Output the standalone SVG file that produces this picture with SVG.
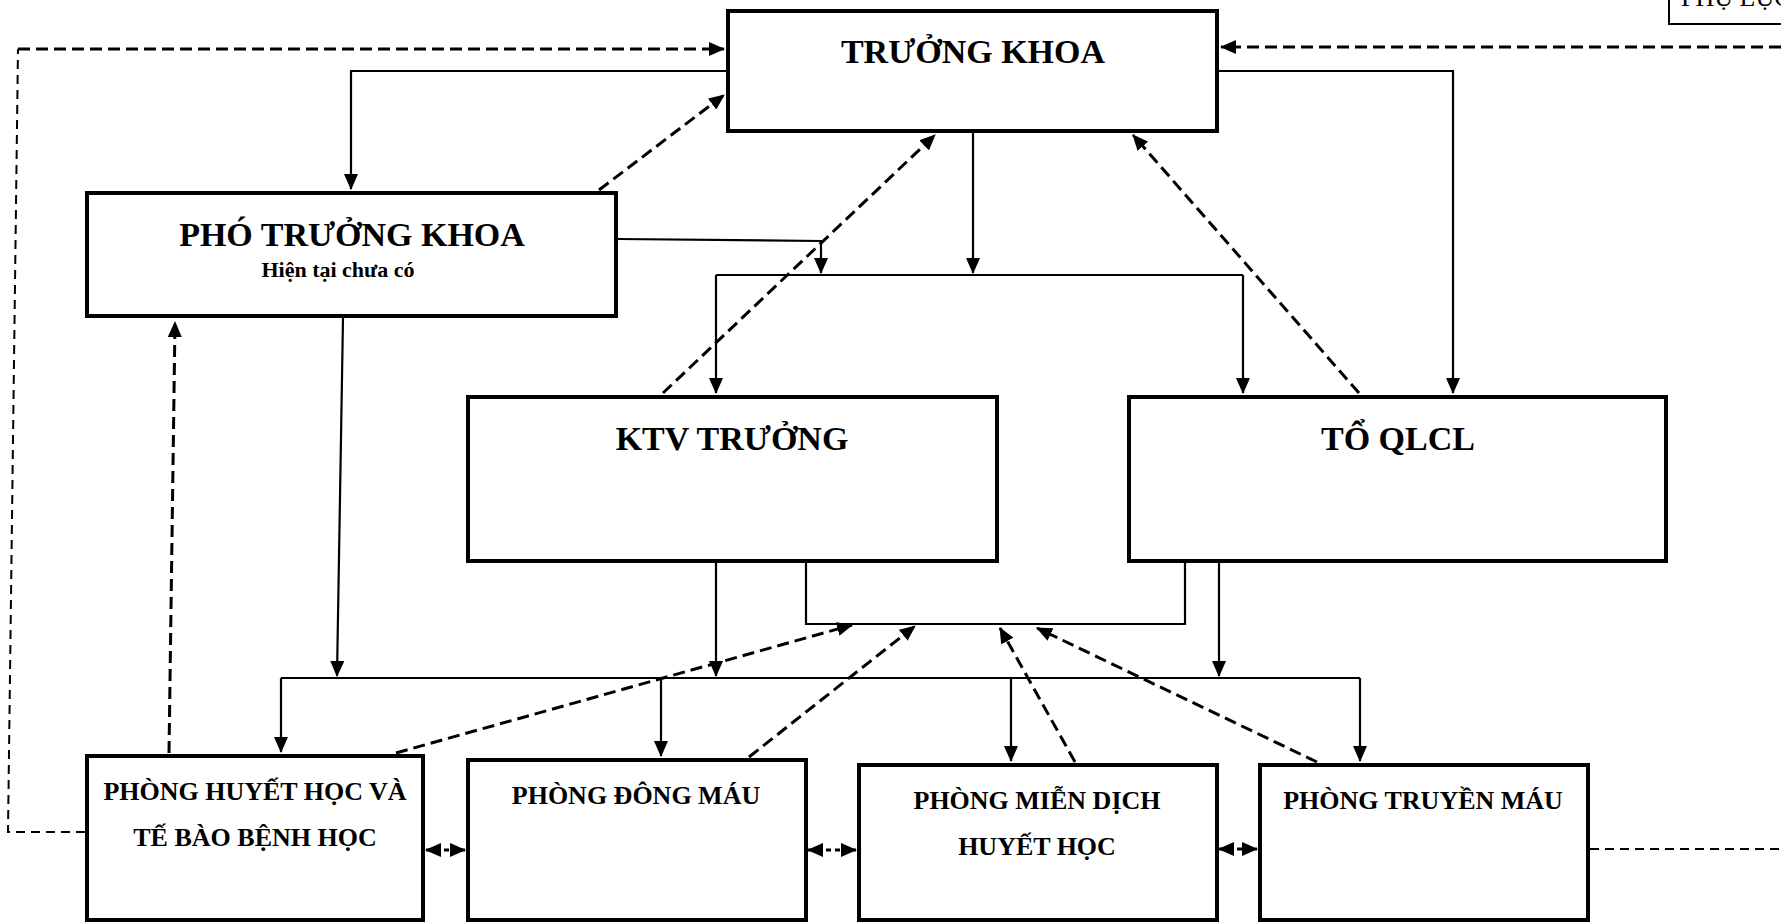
<svg xmlns="http://www.w3.org/2000/svg" width="1781" height="923" viewBox="0 0 1781 923">
<style>
.box{fill:#fff;stroke:#000;stroke-width:4}
.t{font-family:"Liberation Serif","Times New Roman",serif;font-weight:bold;fill:#000;text-anchor:middle}
.big{font-size:34px}
.mid{font-size:26px}
.small{font-size:22px}
.s{fill:none;stroke:#000;stroke-width:2.2}
.d{fill:none;stroke:#000;stroke-width:3;stroke-dasharray:12 6}
.dt{fill:none;stroke:#000;stroke-width:2;stroke-dasharray:9 6}
.dd{fill:none;stroke:#000;stroke-width:3;stroke-dasharray:5 4}
.a{marker-end:url(#arr)}
.ab{marker-start:url(#arr);marker-end:url(#arr)}
</style>
<defs>
<marker id="arr" markerUnits="userSpaceOnUse" markerWidth="16" markerHeight="14" viewBox="0 0 16 14" refX="15" refY="7" orient="auto-start-reverse">
<path d="M0,0 L16,7 L0,14 z" fill="#000"/>
</marker>
</defs>
<rect width="1781" height="923" fill="#fff"/>

<g id="connectors">
<path class="s a" d="M726,71 H351 V189"/>
<path class="s a" d="M1219,71 H1453 V393"/>
<path class="s a" d="M973,133 V273"/>
<path class="s" d="M716,275 H1243"/>
<path class="s a" d="M716,275 V393"/>
<path class="s a" d="M1243,275 V393"/>
<path class="s a" d="M618,239 L821,241 V273"/>
<path class="s a" d="M343,318 L337,676"/>
<path class="s a" d="M716,563 V676"/>
<path class="s a" d="M1219,563 V676"/>
<path class="s" d="M806,563 V624 H1185 V563"/>
<path class="s" d="M281,678 H1360"/>
<path class="s a" d="M281,678 V752"/>
<path class="s a" d="M661,678 V756"/>
<path class="s a" d="M1011,678 V761"/>
<path class="s a" d="M1360,678 V761"/>
<path class="d a" d="M18,49 H724"/>
<path class="dt" d="M85,832 H8 L18,49"/>
<path class="d a" d="M1781,47 H1221"/>
<path class="dt" d="M1590,849 H1781"/>
<path class="d a" d="M599,190 L724,95"/>
<path class="d a" d="M663,393 L935,135"/>
<path class="d a" d="M1359,393 L1133,135"/>
<path class="d a" d="M169,753 L175,322"/>
<path class="d a" d="M396,753 L852,625"/>
<path class="d a" d="M749,757 L915,626"/>
<path class="d a" d="M1075,762 L1000,628"/>
<path class="d a" d="M1317,762 L1037,628"/>
<path class="dd ab" d="M426,850 H465"/>
<path class="dd ab" d="M808,850 H856"/>
<path class="dd ab" d="M1219,849 H1257"/>
</g>

<g id="truong-khoa">
<rect class="box" x="728" y="11" width="489" height="120"/>
<text class="t big" x="973" y="63">TRƯỞNG KHOA</text>
</g>
<g id="pho-truong-khoa">
<rect class="box" x="87" y="193" width="529" height="123"/>
<text class="t big" x="352" y="246">PHÓ TRƯỞNG KHOA</text>
<text class="t small" x="338" y="277">Hiện tại chưa có</text>
</g>
<g id="ktv-truong">
<rect class="box" x="468" y="397" width="529" height="164"/>
<text class="t big" x="732" y="450">KTV TRƯỞNG</text>
</g>
<g id="to-qlcl">
<rect class="box" x="1129" y="397" width="537" height="164"/>
<text class="t big" x="1398" y="450">TỔ QLCL</text>
</g>
<g id="phong-huyet-hoc">
<rect class="box" x="87" y="756" width="336" height="164"/>
<text class="t mid" x="255" y="800">PHÒNG HUYẾT HỌC VÀ</text>
<text class="t mid" x="255" y="846">TẾ BÀO BỆNH HỌC</text>
</g>
<g id="phong-dong-mau">
<rect class="box" x="468" y="760" width="338" height="160"/>
<text class="t mid" x="636" y="804">PHÒNG ĐÔNG MÁU</text>
</g>
<g id="phong-mien-dich">
<rect class="box" x="859" y="765" width="358" height="155"/>
<text class="t mid" x="1037" y="809">PHÒNG MIỄN DỊCH</text>
<text class="t mid" x="1037" y="855">HUYẾT HỌC</text>
</g>
<g id="phong-truyen-mau">
<rect class="box" x="1260" y="765" width="328" height="155"/>
<text class="t mid" x="1423" y="809">PHÒNG TRUYỀN MÁU</text>
</g>
<g id="phu-luc">
<rect x="1669" y="-10" width="200" height="34" fill="#fff" stroke="#000" stroke-width="2"/>
<text x="1681" y="6" font-family="Liberation Serif, Times New Roman, serif" font-size="26" fill="#000">PHỤ LỤC</text>
</g>
</svg>
